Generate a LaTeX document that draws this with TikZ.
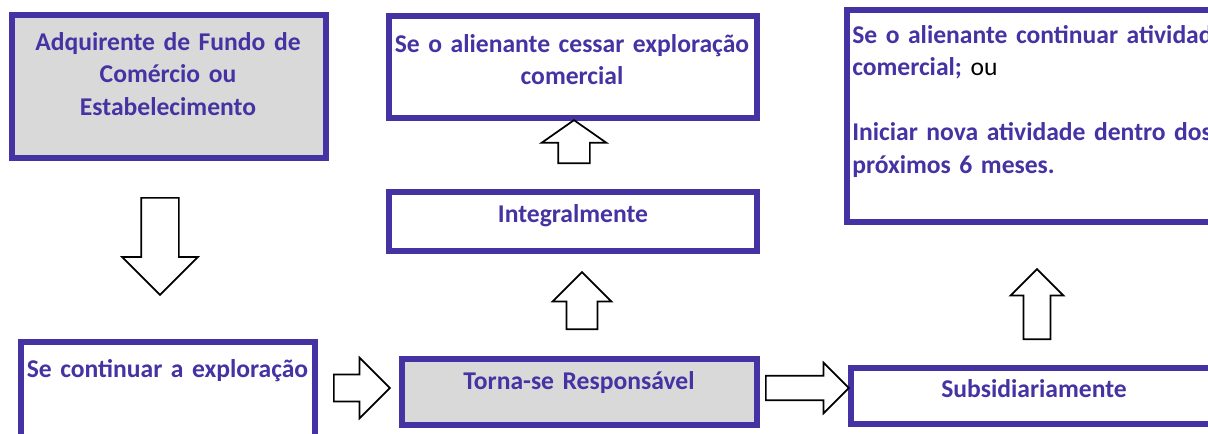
\documentclass[tikz,border=0pt]{standalone}
\usepackage{fontspec}
\setmainfont{Carlito}
\usetikzlibrary{shapes.arrows,positioning}
\definecolor{frameblue}{HTML}{4533A3}
\definecolor{boxgray}{HTML}{D9D9D9}

\begin{document}
\begin{tikzpicture}
[x=0.75pt, y=-0.75pt,
box/.style ={rectangle, draw=frameblue, line width=4.3pt, fill=white,
inner sep=0pt},
greybox/.style ={box, fill=boxgray},
txt/.style ={inner sep=0pt, text=frameblue, anchor=base,
font=\fontsize{19.2}{24.4}\selectfont\bfseries,
text width=300pt, align=center},
barrow/.style ={single arrow, draw=black, line width=1.3pt, fill=white,
inner xsep=0pt, single arrow tip angle=90, anchor=tail}]
\useasboundingbox (0,0) rectangle (1208,433);
\clip (0,0) rectangle (1208,433);

% top row
\node [greybox, minimum width=235.5pt, minimum height=107.25pt] (adq) at (169,86.5) {};
\node [box, minimum width=276pt, minimum height=76.5pt] (cessar) at (573,67) {};
\node [box, minimum width=281.25pt, minimum height=159pt] (ativ) at (1034.5,116) {};
% middle
\node [box, minimum width=276pt, minimum height=44.25pt] (integ) at (573,221.5) {};
% bottom row
\node [box, minimum width=220.5pt, minimum height=77.25pt] (cont) at (168,393.5) {};
\node [greybox, minimum width=266.25pt, minimum height=49.5pt] (torna) at (579.5,392) {};
\node [box, minimum width=274.5pt, minimum height=42pt] (subs) at (1034,396) {};

% texts
\node [txt] (adqtxt) at (168,50) {Adquirente de Fundo de\\Comércio ou\\Estabelecimento};
\node [txt] (cessartxt) at (572,52) {Se o alienante cessar exploração\\comercial};
\node [txt] (integtxt) at (573,222) {Integralmente};
\node [txt, anchor=base west, align=left] (ativtxt) at (852,43)
  {Se o alienante continuar atividade\\
   comercial; {\normalfont\color{black}ou}\\[24.4pt]
   \makebox[268pt][s]{Iniciar nova atividade dentro dos}\\
   próximos 6 meses.};
\node [txt] (conttxt) at (167.5,377) {Se continuar a exploração};
\node [txt] (tornatxt) at (579,389) {Torna-se Responsável};
\node [txt] (substxt) at (1034,397) {Subsidiariamente};

% block arrows
\begin{scope}[every node/.style=barrow]
\node [rotate=-90, inner ysep=13.5pt, single arrow head extend=14.25pt,
  minimum width=55.5pt, minimum height=72.75pt] (adq2cont) at (160,197) {};
\node [rotate=90, inner ysep=11.25pt, single arrow head extend=12.4pt,
  single arrow tip angle=110, minimum width=47.25pt,
  minimum height=32.25pt] (integ2cessar) at (574,164) {};
\node [rotate=90, inner ysep=10.9pt, single arrow head extend=10.5pt,
  minimum width=42.75pt, minimum height=42.75pt] (torna2integ) at (582,330) {};
\node [rotate=90, inner ysep=9.4pt, single arrow head extend=9.75pt,
  minimum width=38.25pt, minimum height=52.5pt] (subs2ativ) at (1037,340) {};
\node [inner ysep=9.4pt, single arrow head extend=12.75pt,
  minimum width=44.25pt, minimum height=42pt] (cont2torna) at (333,388) {};
\node [inner ysep=8.6pt, single arrow head extend=9.75pt,
  minimum width=36.75pt, minimum height=62.25pt] (torna2subs) at (765,388) {};
\end{scope}
\end{tikzpicture}
\end{document}
